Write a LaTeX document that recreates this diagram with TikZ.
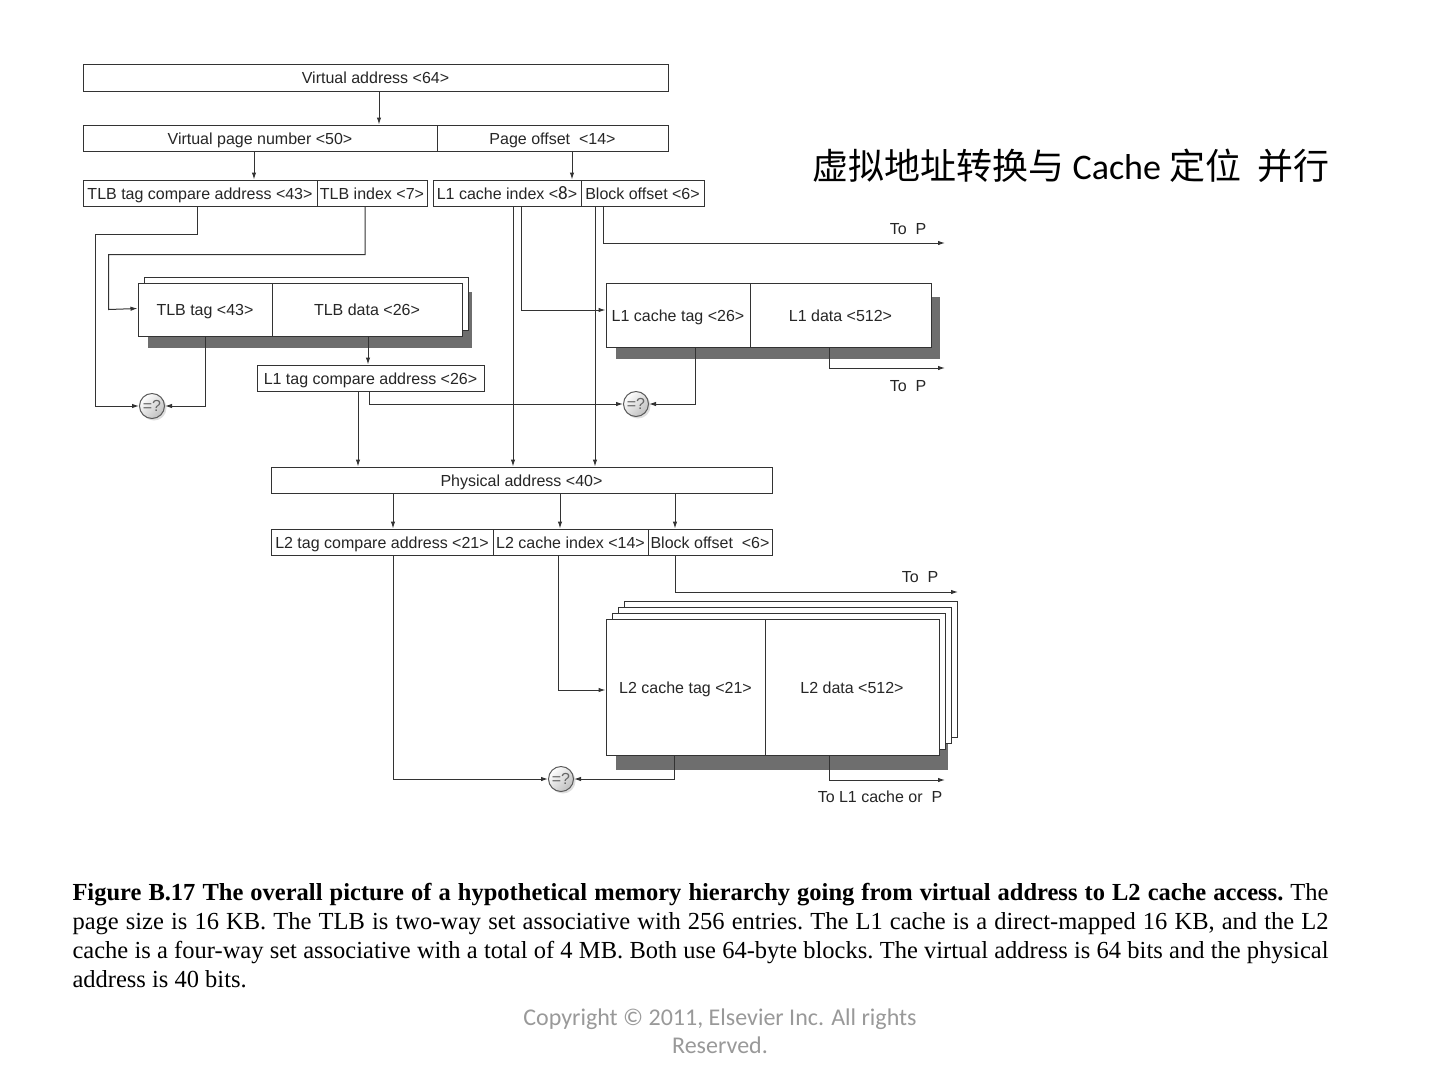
\documentclass[tikz,border=0pt]{standalone}
\usepackage{fontspec}
\setmainfont{Liberation Sans}
\newfontfamily\capfont{Liberation Serif}
\newfontfamily\cjkfont{Noto Sans CJK SC}
\newfontfamily\calfont{Carlito}
\usetikzlibrary{arrows.meta,shadows}
\colorlet{wire}{black!80}
\colorlet{shadowgray}{black!57}
\begin{document}
\begin{tikzpicture}[x=1pt,y=-1pt,line width=1pt,
  field/.style={draw=wire,fill=white,inner sep=0pt,minimum height=26pt,
    text height=12pt,text depth=0pt,font=\fontsize{16}{18}\selectfont,text=black!85},
  arr/.style={draw=wire,-{Latex[length=7pt,width=4.5pt]}},
  wire/.style={draw=wire},
  cmp/.style={circle,draw=black!65,top color=white,bottom color=gray!50,shading angle=45,
    minimum size=25pt,inner sep=0pt,font=\fontsize{16}{16}\selectfont,text=black!60,
    drop shadow={shadow xshift=2pt,shadow yshift=-2pt,fill=black!25}},
  lbl/.style={inner sep=0pt,font=\fontsize{16}{18}\selectfont,text=black!85}]
  \useasboundingbox[fill=white] (0,0) rectangle (1440,1080);

  % shadows and back copies of the memories
  \fill[shadowgray] (148,292) rectangle (472,348);
  \draw[wire,fill=white] (144,277) rectangle (468,330);
  \fill[shadowgray] (616,297) rectangle (940,359);
  \fill[shadowgray] (616,700) rectangle (948,770);
  \foreach \k in {3,2,1}
    \draw[wire,fill=white] (606+6*\k,619-6*\k) rectangle (939+6*\k,755-6*\k);

  % address fields
  \node[field,minimum width=585pt,minimum height=27pt] (va) at (375.5,77.5) {Virtual address <64>};
  \node[field,minimum width=354pt] (vpn) at (260,138) {Virtual page number <50>};
  \node[field,minimum width=231pt] (poff) at (552.5,138) {Page offset\ \ <14>};
  \node[field,minimum width=234pt] (tlbcmp) at (200,193) {TLB tag compare address <43>};
  \node[field,minimum width=110pt] (tlbidx) at (372,193) {TLB index <7>};
  \node[field,minimum width=148pt] (l1idx) at (507,193) {L1 cache index <{\calfont\fontsize{19}{19}\selectfont 8}>};
  \node[field,minimum width=123pt] (boff1) at (642.5,193) {Block offset <6>};

  % TLB
  \node[field,minimum width=134pt,minimum height=53pt] (tlbtag) at (205,309.5) {TLB tag <43>};
  \node[field,minimum width=190pt,minimum height=53pt] (tlbdata) at (367,309.5) {TLB data <26>};
  \node[field,minimum width=227pt] (l1cmp) at (370.5,378) {L1 tag compare address <26>};

  % L1 cache
  \node[field,minimum width=144pt,minimum height=64pt] (l1tag) at (678,315) {L1 cache tag <26>};
  \node[field,minimum width=181pt,minimum height=64pt] (l1data) at (840.5,315) {L1 data <512>};

  % physical address and L2 fields
  \node[field,minimum width=501pt] (pa) at (521.5,480) {Physical address <40>};
  \node[field,minimum width=222pt] (l2cmp) at (382,542) {L2 tag compare address <21>};
  \node[field,minimum width=155pt] (l2idx) at (570.5,542) {L2 cache index <14>};
  \node[field,minimum width=124pt] (boff2) at (710,542) {Block offset\ \ <6>};

  % L2 cache
  \node[field,minimum width=159pt,minimum height=136pt] (l2tag) at (685.5,687) {L2 cache tag <21>};
  \node[field,minimum width=174pt,minimum height=136pt] (l2data) at (852,687) {L2 data <512>};

  % comparators
  \node[cmp] (eq1) at (152,406) {=?};
  \node[cmp] (eq2) at (636,404) {=?};
  \node[cmp] (eq3) at (561,779) {=?};

  % outputs
  \coordinate (out1) at (945,243);
  \coordinate (out2) at (945,368);
  \coordinate (out3) at (958,592);
  \coordinate (out4) at (945,780);
  \node[lbl] (out1lbl) at (908,229) {To\ \ P};
  \node[lbl] (out2lbl) at (908,386) {To\ \ P};
  \node[lbl] (out3lbl) at (920,577) {To\ \ P};
  \node[lbl] (out4lbl) at (880,797) {To L1 cache or\ \ P};

  % connectors
  \draw[arr] ([xshift=3.5pt]va.south) -- ([xshift=3.5pt]va.south |- vpn.north);
  \draw[arr] ([xshift=-6pt]vpn.south) -- ([xshift=-6pt]vpn.south |- tlbcmp.north);
  \draw[arr] ([xshift=19.5pt]poff.south) -- ([xshift=19.5pt]poff.south |- l1idx.north);
  \draw[arr] ([xshift=-3pt]tlbcmp.south) -- ++(0,28) -| ([xshift=-44pt]eq1.west) -- (eq1.west);
  \draw[arr] ([xshift=-7pt]tlbidx.south) -- ++(0,48) -| ([xshift=-29pt]tlbtag.west) -- ([yshift=1pt]tlbtag.west);
  \draw[arr] (tlbtag.south) |- (eq1.east);
  \draw[arr] ([xshift=1pt]tlbdata.south) -- ([xshift=1pt]tlbdata.south |- l1cmp.north);
  \draw[arr] ([xshift=-12.5pt]l1cmp.south) -- ([xshift=-12.5pt]l1cmp.south |- pa.north);
  \draw[arr] ([xshift=-1.5pt]l1cmp.south) |- (eq2.west);
  \draw[arr] ([xshift=6pt]l1idx.south) -- ([xshift=6pt]l1idx.south |- pa.north);
  \draw[arr] ([xshift=14pt]l1idx.south) |- ([yshift=5pt]l1tag.west);
  \draw[arr] ([xshift=-47.5pt]boff1.south) -- ([xshift=-47.5pt]boff1.south |- pa.north);
  \draw[arr] ([xshift=-39.5pt]boff1.south) |- (out1);
  \draw[arr] ([xshift=17pt]l1tag.south) |- (eq2.east);
  \draw[arr] ([xshift=-11.5pt]l1data.south) |- (out2);
  \draw[arr] ([xshift=11pt]l2cmp.north |- pa.south) -- ([xshift=11pt]l2cmp.north);
  \draw[arr] ([xshift=-10.5pt]l2idx.north |- pa.south) -- ([xshift=-10.5pt]l2idx.north);
  \draw[arr] ([xshift=-35pt]boff2.north |- pa.south) -- ([xshift=-35pt]boff2.north);
  \draw[arr] ([xshift=11pt]l2cmp.south) |- (eq3.west);
  \draw[arr] ([xshift=-12.5pt]l2idx.south) |- ([yshift=-3pt]l2tag.west);
  \draw[arr] ([xshift=-35pt]boff2.south) |- (out3);
  \draw[arr] ([xshift=-11.5pt]l2tag.south) |- (eq3.east);
  \draw[arr] ([xshift=-23pt]l2data.south) |- (out4);

  % title, caption, copyright
  \node[anchor=west,inner sep=0pt,font=\fontsize{36}{40}\selectfont] (title) at (812,166)
    {\cjkfont 虚拟地址转换与 {\calfont Cache} 定位\hspace{0.45em}并行};
  \node[anchor=north west,inner sep=0pt,text width=1256pt,align=justify,
    font=\capfont\fontsize{24.5}{29}\selectfont\frenchspacing] (caption) at (72,883)
    {\textbf{Figure B.17 The overall picture of a hypothetical memory hierarchy going from virtual address to L2 cache access.} The\linebreak page size is 16 KB. The TLB is two-way set associative with 256 entries. The L1 cache is a direct-mapped 16 KB, and the L2\linebreak cache is a four-way set associative with a total of 4 MB. Both use 64-byte blocks. The virtual address is 64 bits and the physical\linebreak address is 40 bits.};
  \node[inner sep=0pt,align=center,text=black!40,font=\calfont\fontsize{24}{28}\selectfont] (copy) at (720,1031)
    {Copyright © 2011, Elsevier Inc. All rights\\Reserved.};
\end{tikzpicture}
\end{document}
